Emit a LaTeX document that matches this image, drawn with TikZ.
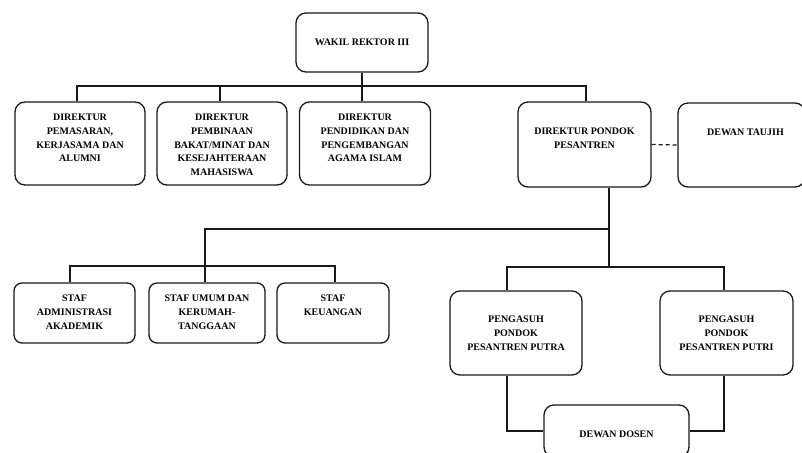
\documentclass[tikz,border=0pt]{standalone}
\usepackage{fontspec}
\setmainfont{Liberation Serif}
\begin{document}
\begin{tikzpicture}[x=1pt,y=-1pt,
  box/.style={draw=black!90, line width=1.3pt, rounded corners=10pt, inner sep=0pt},
  sbox/.style={box, rounded corners=8pt},
  txt/.style={font=\fontsize{10}{13.8}\selectfont\bfseries, align=center, inner sep=0pt, anchor=north},
  conn/.style={line width=1.2pt, draw=black!90}]
\useasboundingbox (0,0) rectangle (802,452);
\clip (0,0) rectangle (802,452);
% boxes
\node[box, minimum width=132pt, minimum height=59pt, font=\fontsize{10}{13.8}\selectfont\bfseries] (wakil) at (362,42.5) {WAKIL REKTOR III};
\node[box, minimum width=130pt, minimum height=83pt] (d1) at (80,143.5) {};
\node[box, minimum width=130pt, minimum height=83pt] (d2) at (222,143.5) {};
\node[box, minimum width=131pt, minimum height=83pt] (d3) at (365,143.5) {};
\node[box, minimum width=133pt, minimum height=85pt] (d4) at (584.5,144.5) {};
\node[box, minimum width=127pt, minimum height=84pt] (dt) at (741.5,145) {};
\node[sbox, minimum width=121pt, minimum height=60pt] (s1) at (74.5,313) {};
\node[sbox, minimum width=116pt, minimum height=60pt] (s2) at (207,313) {};
\node[sbox, minimum width=112pt, minimum height=60pt] (s3) at (333,313) {};
\node[box, minimum width=132pt, minimum height=84pt] (p1) at (516,333) {};
\node[box, minimum width=133pt, minimum height=84pt] (p2) at (726.5,333) {};
\node[box, minimum width=145pt, minimum height=52pt] (dd) at (616.5,431) {};
% texts
\node[txt] (t1) at ([yshift=-12.5pt]d1.north) {DIREKTUR\\PEMASARAN,\\KERJASAMA DAN\\ALUMNI};
\node[txt] (t2) at ([yshift=-12.5pt]d2.north) {DIREKTUR\\PEMBINAAN\\BAKAT/MINAT DAN\\KESEJAHTERAAN\\MAHASISWA};
\node[txt] (t3) at ([yshift=-12.5pt]d3.north) {DIREKTUR\\PENDIDIKAN DAN\\PENGEMBANGAN\\AGAMA ISLAM};
\node[txt] (t4) at ([yshift=-26.5pt]d4.north) {DIREKTUR PONDOK\\PESANTREN};
\node[txt] (t5) at ([xshift=4pt,yshift=-26.5pt]dt.north) {DEWAN TAUJIH};
\node[txt] (t6) at ([yshift=-12.5pt]s1.north) {STAF\\ADMINISTRASI\\AKADEMIK};
\node[txt] (t7) at ([yshift=-12.5pt]s2.north) {STAF UMUM DAN\\KERUMAH-\\TANGGAAN};
\node[txt] (t8) at ([yshift=-12.5pt]s3.north) {STAF\\KEUANGAN};
\node[txt] (t9) at ([yshift=-25.5pt]p1.north) {PENGASUH\\PONDOK\\PESANTREN PUTRA};
\node[txt] (t10) at ([yshift=-25.5pt]p2.north) {PENGASUH\\PONDOK\\PESANTREN PUTRI};
\node[txt] (t11) at ([yshift=-26.5pt]dd.north) {DEWAN DOSEN};
% connector coordinates
\coordinate (b1) at (77,86);
\coordinate (b2) at (220,86);
\coordinate (b3) at (362,86);
\coordinate (b4) at (586,86);
\coordinate (k1) at (609,229);
\coordinate (k2) at (609,267);
\coordinate (c1) at (205,229);
\coordinate (sb1) at (70,266);
\coordinate (sb3) at (335,266);
\coordinate (q1) at (507,267);
\coordinate (q2) at (724,267);
% connectors
\draw[conn] (wakil.south -| b3) -- (d3.north -| b3);
\draw[conn] (d1.north -| b1) -- (b1) -- (b4) -- (d4.north -| b4);
\draw[conn] (b2) -- (d2.north -| b2);
\draw[conn, dash pattern=on 4pt off 3pt] (d4.east) -- (dt.west);
\draw[conn] (d4.south -| k1) -- (k2);
\draw[conn] (k1) -- (c1) -- (s2.north -| c1);
\draw[conn] (s1.north -| sb1) -- (sb1) -- (sb3) -- (s3.north -| sb3);
\draw[conn] (p1.north -| q1) -- (q1) -- (q2) -- (p2.north -| q2);
\draw[conn] (p1.south -| q1) |- (dd.west);
\draw[conn] (p2.south -| q2) |- (dd.east);
\end{tikzpicture}
\end{document}
